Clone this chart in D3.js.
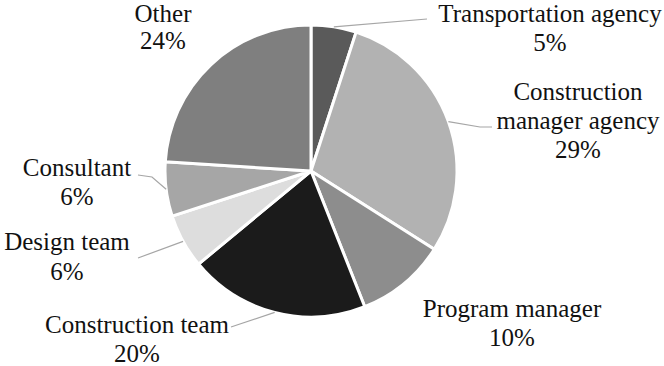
<!DOCTYPE html>
<html lang="en">
<head>
  <meta charset="UTF-8">
  <title>Pie chart with D3.js</title>
  <script src="https://d3js.org/d3.v7.min.js"></script>
  <style>
    body { margin: 0; background: #fff; }
    .leader { fill: none; stroke: #a6a6a6; stroke-width: 1.2px; }
  </style>
</head>
<body>
<svg id="chart" width="664" height="366"></svg>
<script>
  // Data
  const categories = ["Transportation agency", "Construction manager agency", "Program manager",
    "Construction team", "Design team", "Consultant", "Other"];
  const shares = [5, 29, 10, 20, 6, 6, 24];
  const shades = ["#5a5a5a", "#b2b2b2", "#8d8d8d", "#1b1b1b", "#dddddd", "#a6a6a6", "#7f7f7f"];

  // Label placement (text lines, centre x, first baseline, line gap, leader points after the arc)
  const labelLayout = [
    { lines: ["Transportation agency", "5%"], x: 550, y: 22, gap: 29, leader: [[427, 19]] },
    { lines: ["Construction", "manager agency", "29%"], x: 578, y: 100, gap: 29, leader: [[480, 127], [492, 127]] },
    { lines: ["Program manager", "10%"], x: 512, y: 317, gap: 29, leader: null },
    { lines: ["Construction team", "20%"], x: 137, y: 333, gap: 29, leader: [[231, 327]] },
    { lines: ["Design team", "6%"], x: 67, y: 250, gap: 30, leader: [[138, 258]] },
    { lines: ["Consultant", "6%"], x: 77, y: 176, gap: 29, leader: [[152, 177], [138, 175]] },
    { lines: ["Other", "24%"], x: 163, y: 22, gap: 27, leader: null }
  ];

  const svg = d3.select("#chart");
  const cx = 311, cy = 171, radius = 146;

  const pie = d3.pie().sort(null).value(d => d);
  const arcs = pie(shares);

  const arc = d3.arc().innerRadius(0).outerRadius(radius);
  const edge = d3.arc().innerRadius(radius).outerRadius(radius);

  const g = svg.append("g").attr("transform", `translate(${cx},${cy})`);

  g.selectAll("path.slice")
    .data(arcs)
    .enter().append("path")
    .attr("class", "slice")
    .attr("d", arc)
    .attr("fill", (d, i) => shades[i])
    .attr("stroke", "#fff")
    .attr("stroke-width", 3)
    .attr("stroke-linejoin", "round");

  // Leader lines from the middle of each slice edge
  const line = d3.line();
  arcs.forEach((d, i) => {
    const lay = labelLayout[i];
    if (!lay.leader) return;
    const [sx, sy] = edge.centroid(d);
    const pts = [[sx + cx, sy + cy]].concat(lay.leader);
    svg.append("path")
      .attr("class", "leader")
      .attr("d", line(pts));
  });

  // Labels
  labelLayout.forEach((lay, i) => {
    const t = svg.append("text")
      .style("font-family", '"Liberation Serif"')
      .style("font-size", "25px")
      .attr("fill", "#111")
      .attr("text-anchor", "middle");
    lay.lines.forEach((s, k) => {
      t.append("tspan")
        .attr("x", lay.x)
        .attr("y", lay.y + k * lay.gap)
        .text(s);
    });
  });
</script>
</body>
</html>
